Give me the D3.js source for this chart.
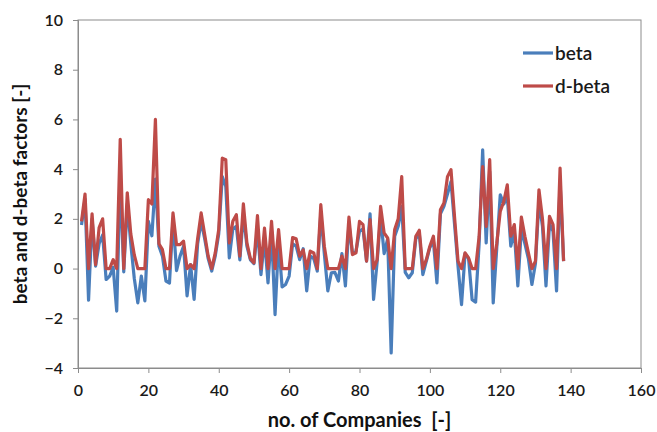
<!DOCTYPE html>
<html>
<head>
<meta charset="utf-8">
<script src="https://cdn.jsdelivr.net/npm/d3@7"></script>
<style>
  body { margin: 0; background: #fff; }
  svg text { font-family: Lato, "Open Sans", sans-serif; white-space: pre; }
</style>
</head>
<body>
<div id="chart"></div>
<script>
// data +++++++++++++++++++++++++++++++++++++++++
const companies = d3.range(1, 139); // 1..138

const beta = [
  1.75, 2.8, -1.27, 2.0, 0.1, 1.0, 1.35, -0.44, -0.3, 0.05,
  -1.71, 3.7, -0.13, 2.6, 1.0, -0.4, -1.38, -0.3, -1.3, 1.9,
  1.32, 3.6, 0.9, 0.5, -0.5, -0.58, 2.0, -0.08, 0.5, 0.9,
  -1.1, 0.16, -1.24, 1.0, 1.9, 1.2, 0.4, -0.1, 0.5, 1.4,
  3.7, 3.3, 0.43, 1.6, 1.7, 0.35, 2.2, 0.9, 0.35, 0.2,
  1.6, -0.24, 1.2, -0.58, 1.5, -1.85, 1.1, -0.74, -0.64, -0.3,
  1.0, 0.9, 0.36, 0.8, -0.9, 0.5, 0.4, -0.1, 2.2, 0.6,
  -0.9, -0.17, -0.15, -0.5, 0.6, -0.7, 1.8, 0.6, 0.7, 1.5,
  1.6, 0.3, 2.2, -1.24, 0.25, 2.1, 0.6, 1.2, -3.39, 1.3,
  1.7, 2.5, -0.15, -0.37, -0.17, 1.2, 1.4, -0.24, 0.3, 0.85,
  1.1, -0.58, 2.2, 2.5, 3.0, 3.5, 1.8, 0.1, -1.45, 0.6,
  0.4, -1.25, -1.35, 1.0, 4.78, 1.03, 3.9, -1.38, 0.8, 2.97,
  2.6, 2.9, 0.9, 1.5, -0.7, 1.6, 1.0, 0.4, -0.64, 0.2,
  2.7, 1.7, -0.7, 1.8, 1.5, -0.9, 3.5, 0.3
];

const dBeta = [
  1.9, 3.0, 0, 2.2, 0.16, 1.65, 2.0, 0, 0, 0.36,
  0, 5.2, 0, 3.05, 1.4, 0.55, 0, 0, 0, 2.77,
  2.6, 6.0, 1.0, 0.76, 0, 0, 2.24, 0.96, 0.96, 1.1,
  0, 0.16, 0, 1.2, 2.24, 1.37, 0.5, 0, 0.63, 1.57,
  4.44, 4.38, 1.03, 1.9, 2.17, 0.5, 2.6, 1.03, 0.4, 0.23,
  2.13, 0, 1.63, 0, 1.9, 0, 1.57, 0, 0, 0,
  1.25, 1.2, 0.5, 0.75, 0, 0.7, 0.63, 0, 2.57, 0.9,
  0, 0, 0, 0, 0.5, 0, 2.07, 0.56, 0.63, 1.9,
  1.77, 0.3, 1.97, 0, 0.35, 2.5, 1.43, 1.23, 0, 1.57,
  2.0, 3.7, 0, 0, 0, 1.3, 1.54, 0, 0.36, 0.9,
  1.3, 0, 2.37, 2.64, 3.7, 3.98, 2.1, 0.3, 0, 0.63,
  0.43, 0, 0, 1.3, 4.1, 1.7, 4.38, 0, 1.0, 2.3,
  2.7, 3.37, 1.3, 1.77, 0, 2.07, 1.3, 0.63, 0, 0.3,
  3.17, 2.0, 0, 2.1, 1.77, 0, 4.04, 0.3
];

const xTicks = [0, 20, 40, 60, 80, 100, 120, 140, 160];
const yTicks = [-4, -2, 0, 2, 4, 6, 8, 10];
const seriesNames = ["beta", "d-beta"];
// data -----------------------------------------

const width = 657;
const height = 432;
const margin = { top: 20, right: 16, bottom: 64, left: 78 };

const svg = d3.select("#chart")
  .append("svg")
  .attr("width", width)
  .attr("height", height);

const x = d3.scaleLinear().domain([0, 160]).range([margin.left, width - margin.right]);
const y = d3.scaleLinear().domain([-4, 10]).range([height - margin.bottom, margin.top]);

const colors = { "beta": "#4a7ebb", "d-beta": "#be4b48" };

// plot frame
svg.append("rect")
  .attr("x", x(0))
  .attr("y", y(10))
  .attr("width", x(160) - x(0))
  .attr("height", y(-4) - y(10))
  .attr("fill", "none")
  .attr("stroke", "#8c8c8c")
  .attr("stroke-width", 1);

// axes
const xAxis = svg.append("g")
  .attr("transform", `translate(0,${y(-4)})`)
  .call(d3.axisBottom(x).tickValues(xTicks).tickSize(5).tickPadding(12));

const yAxis = svg.append("g")
  .attr("transform", `translate(${x(0)},0)`)
  .call(d3.axisLeft(y).tickValues(yTicks).tickSize(5).tickPadding(10));

[xAxis, yAxis].forEach(g => {
  g.select(".domain").attr("stroke", "#8c8c8c");
  g.selectAll(".tick line").attr("stroke", "#8c8c8c");
  g.selectAll(".tick text")
    .attr("fill", "#1a1a1a")
    .attr("font-size", "16px")
    .attr("font-weight", 600)
    .style("font-family", "Lato, sans-serif");
});

// lines
const line = d3.line()
  .x((d, i) => x(companies[i]))
  .y(d => y(d));

svg.append("path")
  .datum(beta)
  .attr("fill", "none")
  .attr("stroke", colors["beta"])
  .attr("stroke-width", 3.2)
  .attr("stroke-linejoin", "round")
  .attr("d", line);

svg.append("path")
  .datum(dBeta)
  .attr("fill", "none")
  .attr("stroke", colors["d-beta"])
  .attr("stroke-width", 3.2)
  .attr("stroke-linejoin", "round")
  .attr("d", line);

// legend
const legend = svg.append("g").attr("transform", "translate(523,53)");
seriesNames.forEach((name, i) => {
  const row = legend.append("g").attr("transform", `translate(0,${i * 33})`);
  row.append("line")
    .attr("x1", 0).attr("x2", 30)
    .attr("y1", 0).attr("y2", 0)
    .attr("stroke", colors[name])
    .attr("stroke-width", 3.2);
  row.append("text")
    .attr("x", 32)
    .attr("y", 0)
    .attr("dy", "0.35em")
    .attr("font-size", "19px")
    .attr("font-weight", 600)
    .attr("fill", "#1a1a1a")
    .text(name);
});

// axis titles
svg.append("text")
  .attr("x", (x(0) + x(160)) / 2)
  .attr("y", 427)
  .attr("text-anchor", "middle")
  .attr("font-size", "20px")
  .attr("font-weight", "bold")
  .attr("fill", "#111")
  .text("no. of Companies  [-]");

svg.append("text")
  .attr("transform", `translate(27,${(y(10) + y(-4)) / 2}) rotate(-90)`)
  .attr("text-anchor", "middle")
  .attr("font-size", "19px")
  .attr("font-weight", "bold")
  .attr("fill", "#111")
  .text("beta and d-beta factors [-]");
</script>
</body>
</html>
